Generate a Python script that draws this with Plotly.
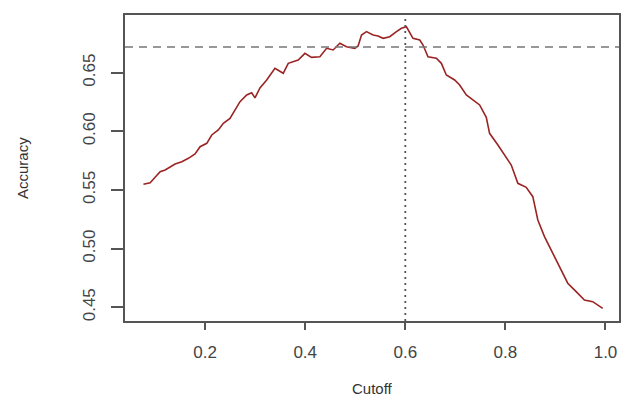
import plotly.graph_objects as go

cutoff = [0.0768,0.0902,0.1001,0.1101,0.1201,0.1301,0.1400,0.1534,0.1666,0.1799,
          0.1899,0.2033,0.2132,0.2264,0.2364,0.2497,0.2597,0.2697,0.2831,0.2930,
          0.2996,0.3096,0.3230,0.3395,0.3561,0.3661,0.3860,0.3994,0.4127,0.4293,
          0.4427,0.4558,0.4692,0.4825,0.4991,0.5057,0.5125,0.5224,0.5356,0.5456,
          0.5556,0.5689,0.5823,0.5923,0.6022,0.6088,0.6154,0.6288,0.6354,0.6453,
          0.6621,0.6720,0.6820,0.6986,0.7086,0.7219,0.7351,0.7485,0.7618,0.7684,
          0.7850,0.7983,0.8117,0.8249,0.8416,0.8548,0.8648,0.8781,0.8947,0.9080,
          0.9246,0.9414,0.9579,0.9745,0.9944]
accuracy = [0.5549,0.5562,0.5608,0.5656,0.5671,0.5694,0.5722,0.5741,0.5770,0.5807,
            0.5869,0.5898,0.5969,0.6012,0.6069,0.6111,0.6182,0.6253,0.6310,0.6329,
            0.6285,0.6370,0.6438,0.6538,0.6495,0.6580,0.6608,0.6665,0.6631,0.6636,
            0.6708,0.6694,0.6751,0.6722,0.6708,0.6728,0.6821,0.6850,0.6821,0.6813,
            0.6793,0.6807,0.6850,0.6879,0.6892,0.6836,0.6793,0.6779,0.6736,0.6636,
            0.6623,0.6580,0.6480,0.6438,0.6395,0.6310,0.6267,0.6225,0.6120,0.5983,
            0.5884,0.5798,0.5713,0.5557,0.5523,0.5443,0.5244,0.5102,0.4960,0.4846,
            0.4705,0.4633,0.4562,0.4548,0.4491]

hline_acc = 0.672
vline_cut = 0.6
x_ticks = [0.2, 0.4, 0.6, 0.8, 1.0]
x_tick_labels = ["0.2", "0.4", "0.6", "0.8", "1.0"]
y_ticks = [0.45, 0.50, 0.55, 0.60, 0.65]
y_tick_labels = ["0.45", "0.50", "0.55", "0.60", "0.65"]
x_title = "Cutoff"
y_title = "Accuracy"

FONT = "Liberation Sans, Arial, sans-serif"
AX = "#555555"

fig = go.Figure()
fig.add_trace(go.Scatter(x=cutoff, y=accuracy, mode="lines",
                         line=dict(color="#9a2424", width=1.6), showlegend=False))

fig.add_shape(type="line", xref="paper", yref="y", x0=0, x1=1, y0=hline_acc, y1=hline_acc,
              line=dict(color="#777777", width=1.5, dash="8px,6px"))
fig.add_shape(type="line", xref="x", yref="paper", x0=vline_cut, x1=vline_cut, y0=0, y1=1,
              line=dict(color="#555555", width=1.8, dash="2px,4px"))

fig.update_xaxes(range=[0.0399, 1.027], tickvals=x_ticks, ticktext=x_tick_labels,
                 showline=True, mirror=True, linecolor=AX, linewidth=1.5,
                 ticks="outside", ticklen=7, tickwidth=1.5, tickcolor=AX,
                 showgrid=False, zeroline=False, automargin=False,
                 tickfont=dict(family=FONT, size=17, color="#444444"),
                 ticklabelstandoff=8)
fig.update_yaxes(range=[0.4383, 0.6992], tickvals=y_ticks, ticktext=y_tick_labels,
                 showline=True, mirror=True, linecolor=AX, linewidth=1.5,
                 ticks="outside", ticklen=12, tickwidth=1.5, tickcolor=AX,
                 showgrid=False, zeroline=False, tickangle=-90, automargin=False,
                 tickfont=dict(family=FONT, size=17, color="#444444"),
                 ticklabelstandoff=9)

fig.add_annotation(text=x_title, xref="paper", yref="paper", x=0.5, y=0, yshift=-67,
                   showarrow=False, font=dict(family=FONT, size=15, color="#333333"),
                   xanchor="center", yanchor="middle")
fig.add_annotation(text=y_title, xref="paper", yref="paper", x=0, xshift=-103, y=0.5,
                   showarrow=False, textangle=-90,
                   font=dict(family=FONT, size=15, color="#333333"),
                   xanchor="center", yanchor="middle")

fig.update_layout(width=624, height=398, paper_bgcolor="white", plot_bgcolor="white",
                  margin=dict(l=125, r=5, t=15, b=77))

fig.write_html("out.html", config={"displayModeBar": False},
               post_script="document.body.style.margin='0';")
